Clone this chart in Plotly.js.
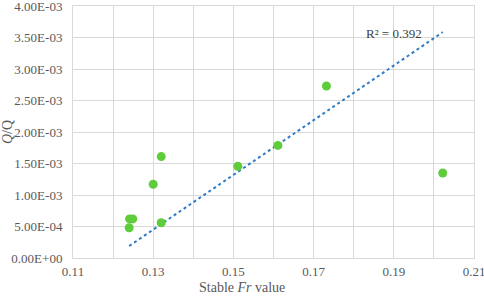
<!DOCTYPE html>
<html>
<head>
<meta charset="utf-8">
<script src="https://cdn.plot.ly/plotly-3.0.1.min.js"></script>
<style>html,body{margin:0;padding:0;background:#fff;}#chart{width:484px;height:296px;}</style>
</head>
<body>
<div id="chart"></div>
<script>
// Data
var frValues = [0.1240, 0.1241, 0.1249, 0.1300, 0.1320, 0.1320, 0.1511, 0.1611, 0.1732, 0.2022];
var qRatio   = [4.8e-4, 6.2e-4, 6.2e-4, 1.17e-3, 1.61e-3, 5.6e-4, 1.456e-3, 1.787e-3, 2.73e-3, 1.35e-3];
var trendX   = [0.1240, 0.2022];
var trendY   = [1.9e-4, 3.585e-3];
var r2Label  = "R² = 0.392";
var xTickVals = [0.11, 0.12, 0.13, 0.14, 0.15, 0.16, 0.17, 0.18, 0.19, 0.20, 0.21];
var xTickText = ["0.11", "", "0.13", "", "0.15", "", "0.17", "", "0.19", "", "0.21"];
var yTickVals = [0, 5e-4, 1e-3, 1.5e-3, 2e-3, 2.5e-3, 3e-3, 3.5e-3, 4e-3];
var yTickText = ["0.00E+00", "5.00E-04", "1.00E-03", "1.50E-03", "2.00E-03", "2.50E-03", "3.00E-03", "3.50E-03", "4.00E-03"];

var font = "Liberation Serif";
var grid = "#d9d9d9";

var traces = [
  {
    x: trendX, y: trendY, type: "scatter", mode: "lines",
    line: {color: "#2e7bc4", width: 2, dash: "dot"},
    hoverinfo: "skip"
  },
  {
    x: frValues, y: qRatio, type: "scatter", mode: "markers",
    marker: {color: "#5fcc3c", size: 9}
  }
];

var layout = {
  width: 484, height: 296,
  margin: {l: 73, r: 10, t: 6, b: 38},
  paper_bgcolor: "#fff", plot_bgcolor: "#fff",
  showlegend: false,
  font: {family: font, size: 13, color: "#595959"},
  xaxis: {
    range: [0.11, 0.2100001],
    tickmode: "array", tickvals: xTickVals, ticktext: xTickText,
    showgrid: true, gridcolor: grid, gridwidth: 1,
    zeroline: false, showline: true, mirror: true, linecolor: grid, linewidth: 1,
    ticks: "outside", ticklen: 1, tickcolor: "rgba(0,0,0,0)",
    ticklabeloverflow: "allow",
    tickfont: {family: font, size: 13, color: "#595959"}
  },
  yaxis: {
    range: [0, 4.00001e-3],
    tickmode: "array", tickvals: yTickVals, ticktext: yTickText,
    showgrid: true, gridcolor: grid, gridwidth: 1,
    zeroline: false, showline: true, mirror: true, linecolor: grid, linewidth: 1,
    ticks: "outside", ticklen: 7, tickcolor: "rgba(0,0,0,0)",
    ticklabeloverflow: "allow",
    tickfont: {family: font, size: 13, color: "#595959"},
    title: {text: "<i>Q</i>/Q", font: {family: font, size: 14, color: "#595959"}, standoff: 2}
  },
  annotations: [
    {
      text: "Stable <i>Fr</i> value", xref: "paper", yref: "paper",
      x: (242 - 73) / 401, y: -0.117, xanchor: "center", yanchor: "middle",
      showarrow: false, borderpad: 0, font: {family: font, size: 14, color: "#595959"}
    },
    {
      text: r2Label, xref: "x", yref: "y", x: 0.190, y: 3.565e-3,
      xanchor: "center", yanchor: "middle", showarrow: false,
      font: {family: font, size: 13, color: "#404040"}
    }
  ]
};

Plotly.newPlot("chart", traces, layout, {displayModeBar: false, staticPlot: true});
</script>
</body>
</html>
